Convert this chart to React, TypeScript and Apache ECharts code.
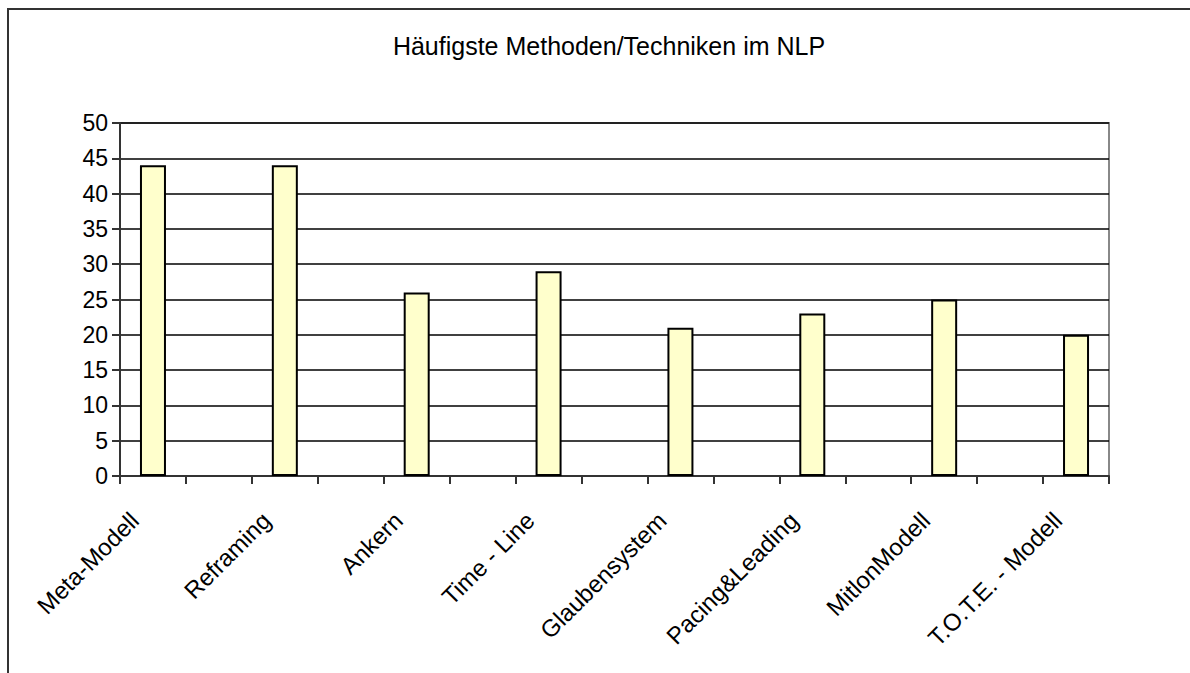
import React, { useEffect, useRef } from "react";
import * as echarts from "echarts";

const TITLE = "Häufigste Methoden/Techniken im NLP";
const METHODS = [
  "Meta-Modell",
  "Reframing",
  "Ankern",
  "Time - Line",
  "Glaubensystem",
  "Pacing&Leading",
  "MitlonModell",
  "T.O.T.E. - Modell",
];
const VALUES = [44, 44, 26, 29, 21, 23, 25, 20];
const Y_MIN = 0;
const Y_MAX = 50;
const Y_STEP = 5;

const FONT = "'Liberation Sans', Arial, sans-serif";

export default function App() {
  const ref = useRef<HTMLDivElement>(null);
  useEffect(() => {
    if (!ref.current) return;
    const chart = echarts.init(ref.current, undefined, { renderer: "svg" });
    // Interleave with empty categories (spacer slots between methods)
    const cats: string[] = [];
    const vals: (number | null)[] = [];
    METHODS.forEach((m, i) => {
      cats.push(m);
      vals.push(VALUES[i]);
      if (i < METHODS.length - 1) {
        cats.push("");
        vals.push(null);
      }
    });
    chart.setOption({
      animation: false,
      backgroundColor: "#ffffff",
      title: {
        text: TITLE,
        left: 604,
        textAlign: "center",
        top: 28,
        textStyle: {
          fontFamily: FONT,
          fontWeight: "normal",
          fontSize: 25,
          color: "#000",
        },
      },
      graphic: [
        {
          type: "rect",
          shape: { x: 8, y: 9, width: 1400, height: 900 },
          style: { fill: "none", stroke: "#333", lineWidth: 2 },
          silent: true,
        },
      ],
      grid: {
        left: 120,
        right: 81,
        top: 123,
        bottom: 197,
        show: true,
        borderColor: "#888",
        borderWidth: 2,
        backgroundColor: "transparent",
      },
      xAxis: {
        type: "category",
        data: cats,
        boundaryGap: true,
        axisLine: { show: true, lineStyle: { color: "#333", width: 2 } },
        axisTick: {
          show: true,
          length: 8,
          interval: 0,
          lineStyle: { color: "#333", width: 2 },
        },
        axisLabel: {
          interval: 1,
          rotate: 45,
          margin: 22,
          padding: [0, 26, 0, 0],
          fontFamily: FONT,
          fontSize: 24,
          color: "#000",
        },
      },
      yAxis: {
        type: "value",
        min: Y_MIN,
        max: Y_MAX,
        interval: Y_STEP,
        axisLine: { show: true, lineStyle: { color: "#333", width: 2 } },
        axisTick: { show: true, length: 8, lineStyle: { color: "#333", width: 2 } },
        axisLabel: {
          margin: 12,
          fontFamily: FONT,
          fontSize: 23,
          color: "#000",
        },
        splitLine: { show: true, lineStyle: { color: "#000", width: 1.5 } },
      },
      series: [
        {
          type: "bar",
          data: vals,
          barWidth: 26,
          itemStyle: {
            color: "#FFFFCC",
            borderColor: "#000",
            borderWidth: 2,
          },
        },
      ],
    });
    return () => chart.dispose();
  }, []);
  return (
    <div
      ref={ref}
      style={{ position: "fixed", left: 0, top: 0, width: 1190, height: 673 }}
    />
  );
}
